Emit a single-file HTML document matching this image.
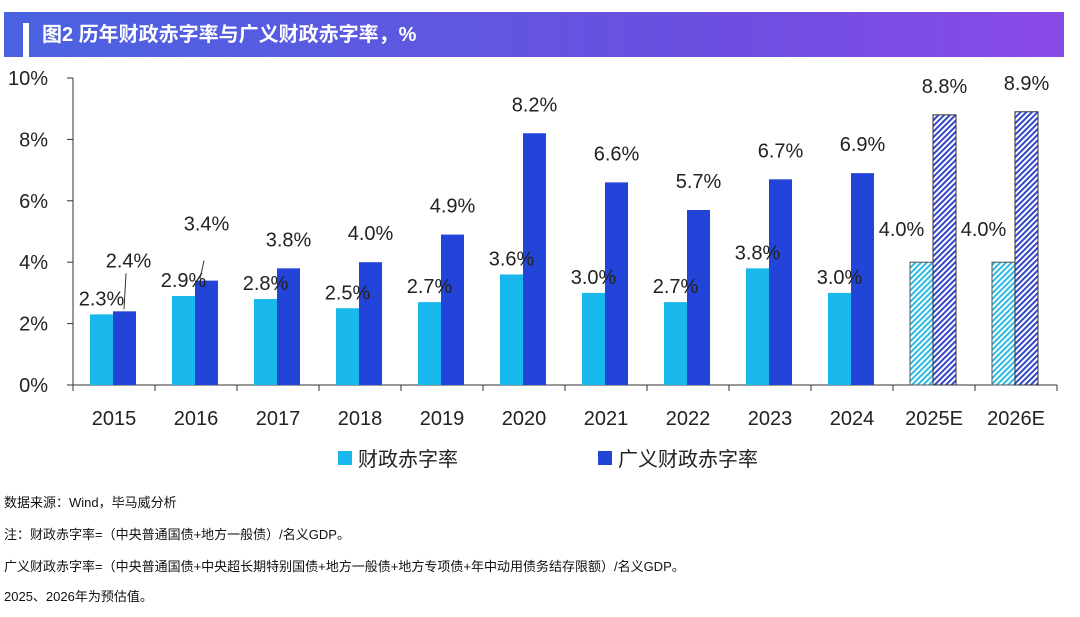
<!DOCTYPE html>
<html><head><meta charset="utf-8"><style>
body{margin:0;width:1080px;height:617px;background:#fff;font-family:"Liberation Sans","Noto Sans CJK SC",sans-serif;overflow:hidden;position:relative}
.hdr{position:absolute;left:4px;top:12px;width:1060px;height:45px;background:linear-gradient(90deg,#4a63e0,#6e4ee0 70%,#8a4ae8);}
.bar-w{position:absolute;left:19px;top:11px;width:6px;height:34px;background:#fff}
.ttl{position:absolute;left:38px;top:9px;color:#fff;font-size:20px;font-weight:bold;line-height:28px}
.note{position:absolute;left:4px;font-size:13px;color:#111}
</style></head><body>
<div class="hdr"><div class="bar-w"></div><div class="ttl">图2 历年财政赤字率与广义财政赤字率，%</div></div>
<svg id="chart" width="1080" height="480" style="position:absolute;left:0;top:0">
<defs>
<pattern id="hc" width="4" height="4" patternUnits="userSpaceOnUse" patternTransform="rotate(45)"><rect width="4" height="4" fill="#fff"/><rect width="2" height="4" fill="#2bbbe0"/></pattern>
<pattern id="hb" width="4" height="4" patternUnits="userSpaceOnUse" patternTransform="rotate(45)"><rect width="4" height="4" fill="#fff"/><rect width="2" height="4" fill="#3547c8"/></pattern>
</defs>
</svg>
<div class="note" style="top:492px">数据来源：Wind，毕马威分析</div>
<div class="note" style="top:524px">注：财政赤字率=（中央普通国债+地方一般债）/名义GDP。</div>
<div class="note" style="top:556px">广义财政赤字率=（中央普通国债+中央超长期特别国债+地方一般债+地方专项债+年中动用债务结存限额）/名义GDP。</div>
<div class="note" style="top:586px">2025、2026年为预估值。</div>
<script>
const categories=["2015","2016","2017","2018","2019","2020","2021","2022","2023","2024","2025E","2026E"];
const deficit=[2.3,2.9,2.8,2.5,2.7,3.6,3.0,2.7,3.8,3.0,4.0,4.0];
const broadDeficit=[2.4,3.4,3.8,4.0,4.9,8.2,6.6,5.7,6.7,6.9,8.8,8.9];
const yTicks=[0,2,4,6,8,10];
const estimated=[false,false,false,false,false,false,false,false,false,false,true,true];
const svg=document.getElementById('chart');const NS='http://www.w3.org/2000/svg';
const x0=73,step=82,yb=385,yt=78;
const y=v=>yb-(v/10)*(yb-yt);
const cx=i=>x0+step*i+step/2;
function mk(t,a,txt){const e=document.createElementNS(NS,t);for(const k in a)e.setAttribute(k,a[k]);if(txt!=null)e.textContent=txt;svg.appendChild(e);return e;}
let e=mk('line',{x1:x0,x2:x0,y1:yt,y2:yb,stroke:'#333'});

e=mk('line',{x1:x0,x2:x0+step*12,y1:yb,y2:yb,stroke:'#333'});

yTicks.forEach(v=>{mk('line',{x1:x0-6,x2:x0,y1:y(v),y2:y(v),stroke:'#333'});
e=mk('text',{x:48,y:y(v)+7,'font-size':20,'text-anchor':'end',fill:'#222'},v+'%');
});
for(let i=0;i<=12;i++)mk('line',{x1:x0+step*i,x2:x0+step*i,y1:yb,y2:yb+6,stroke:'#333'});
categories.forEach((c,i)=>{
e=mk('text',{x:cx(i),y:425,'font-size':20,'text-anchor':'middle',fill:'#222'},c);

const bw=23,c1=cx(i)-bw-1,c2=cx(i)-1;
e=mk('rect',{x:c1,y:y(deficit[i]),width:bw,height:yb-y(deficit[i]),fill:estimated[i]?'url(#hc)':'#19b8ec',stroke:estimated[i]?'#555':'none'});

e=mk('rect',{x:c2,y:y(broadDeficit[i]),width:bw,height:yb-y(broadDeficit[i]),fill:estimated[i]?'url(#hb)':'#2244d8',stroke:estimated[i]?'#333':'none'});

e=mk('text',{x:c1+bw/2-(estimated[i]?20:0),y:y(deficit[i])-(estimated[i]?26:9),'font-size':20,'text-anchor':'middle',fill:'#222'},deficit[i].toFixed(1)+'%');

e=mk('text',{x:c2+bw/2+(i==0?4:0),y:y(broadDeficit[i])-(i==0?44:i==1?50:22),'font-size':20,'text-anchor':'middle',fill:'#222'},broadDeficit[i].toFixed(1)+'%');

});
mk('line',{x1:cx(0)+10,y1:y(broadDeficit[0])-2,x2:cx(0)+12,y2:y(broadDeficit[0])-38,stroke:'#333'});
mk('line',{x1:cx(1)+4,y1:y(broadDeficit[1])-2,x2:cx(1)+8,y2:y(broadDeficit[1])-20,stroke:'#333'});
e=mk('rect',{x:338,y:451,width:14,height:14,fill:'#19b8ec'});
e=mk('text',{x:358,y:466,'font-size':20,fill:'#222'},'财政赤字率');
e=mk('rect',{x:598,y:451,width:14,height:14,fill:'#2244d8'});
e=mk('text',{x:618,y:466,'font-size':20,fill:'#222'},'广义财政赤字率');
</script>
</body></html>
